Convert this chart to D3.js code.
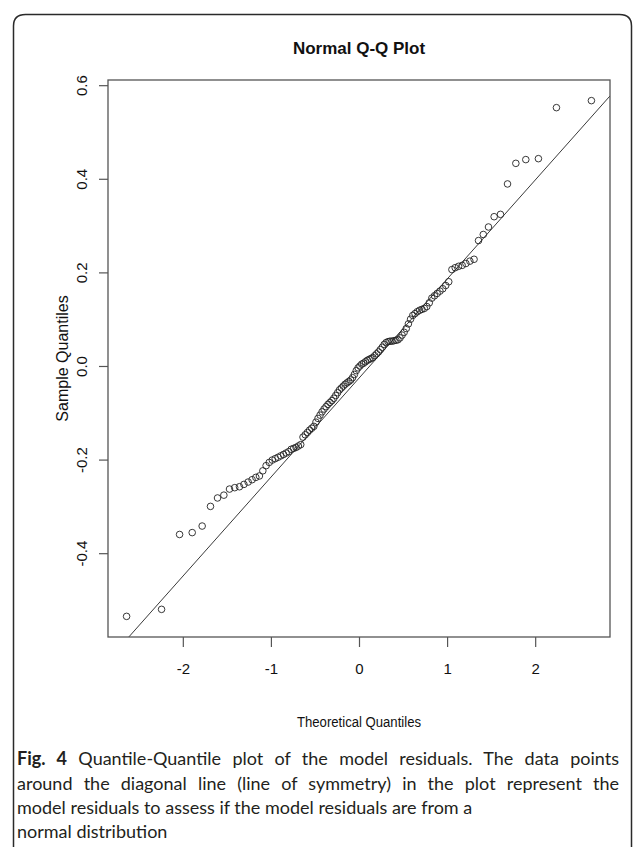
<!DOCTYPE html>
<html>
<head>
<meta charset="utf-8">
<script src="https://cdn.jsdelivr.net/npm/d3@7/dist/d3.min.js"></script>
<style>
  body { margin: 0; background: #fff; }
</style>
</head>
<body>
<div id="plot_area"></div>
<script>
// Page size
const w = 634;
const h = 847;

// Theoretical quantiles (x), lowest to highest
const theoretical = [
  -2.6383, -2.2414, -2.0368, -1.8935, -1.7805, -1.6860, -1.6060, -1.5341, -1.4699, -1.4110,
  -1.3569, -1.3063, -1.2586, -1.2136, -1.1710, -1.1305, -1.0918, -1.0547, -1.0189, -0.9844,
  -0.9510, -0.9186, -0.8873, -0.8567, -0.8269, -0.7979, -0.7694, -0.7416, -0.7144, -0.6878,
  -0.6615, -0.6357, -0.6103, -0.5853, -0.5608, -0.5365, -0.5125, -0.4889, -0.4654, -0.4422,
  -0.4194, -0.3966, -0.3741, -0.3519, -0.3297, -0.3077, -0.2859, -0.2641, -0.2425, -0.2211,
  -0.1998, -0.1785, -0.1573, -0.1360, -0.1150, -0.0941, -0.0732, -0.0522, -0.0313, -0.0104,
  0.0104, 0.0313, 0.0522, 0.0732, 0.0941, 0.1150, 0.1360, 0.1573, 0.1785, 0.1998,
  0.2211, 0.2425, 0.2641, 0.2859, 0.3077, 0.3297, 0.3519, 0.3741, 0.3966, 0.4194,
  0.4422, 0.4654, 0.4889, 0.5125, 0.5365, 0.5608, 0.5853, 0.6103, 0.6357, 0.6615,
  0.6878, 0.7144, 0.7416, 0.7694, 0.7979, 0.8269, 0.8567, 0.8873, 0.9186, 0.9510,
  0.9844, 1.0189, 1.0547, 1.0918, 1.1305, 1.1710, 1.2136, 1.2586, 1.3063, 1.3569,
  1.4110, 1.4699, 1.5341, 1.6060, 1.6860, 1.7805, 1.8935, 2.0368, 2.2414, 2.6383
];

// Sample quantiles (model residuals), same order
const sample = [
  -0.535, -0.520, -0.360, -0.356, -0.342, -0.300, -0.282, -0.276, -0.263, -0.260,
  -0.258, -0.253, -0.248, -0.243, -0.238, -0.235, -0.224, -0.213, -0.206, -0.201,
  -0.198, -0.195, -0.192, -0.189, -0.186, -0.183, -0.178, -0.176, -0.174, -0.171,
  -0.168, -0.152, -0.147, -0.142, -0.137, -0.133, -0.129, -0.120, -0.112, -0.105,
  -0.098, -0.092, -0.087, -0.082, -0.078, -0.074, -0.069, -0.063, -0.057, -0.051,
  -0.047, -0.043, -0.039, -0.036, -0.033, -0.030, -0.025, -0.018, -0.010, -0.004,
  0.000, 0.004, 0.006, 0.009, 0.012, 0.014, 0.016, 0.018, 0.022, 0.026,
  0.030, 0.035, 0.040, 0.046, 0.050, 0.052, 0.053, 0.053, 0.054, 0.055,
  0.056, 0.060, 0.066, 0.072, 0.080, 0.090, 0.100, 0.108, 0.112, 0.116,
  0.119, 0.121, 0.123, 0.127, 0.135, 0.145, 0.150, 0.155, 0.160, 0.165,
  0.172, 0.180, 0.206, 0.210, 0.213, 0.215, 0.219, 0.224, 0.228, 0.268,
  0.281, 0.297, 0.319, 0.324, 0.389, 0.433, 0.441, 0.443, 0.552, 0.567
];

// Axis ticks
const xTicks = [-2, -1, 0, 1, 2];
const yTicks = [-0.4, -0.2, 0.0, 0.2, 0.4, 0.6];

// Normal quantile at 0.75, used by the reference line (qqline)
const z75 = 0.6745;

// Caption lines
const captionBold = 'Fig. 4';
const captionLines = [
  ' Quantile-Quantile plot of the model residuals. The data points',
  'around the diagonal line (line of symmetry) in the plot represent the',
  'model residuals to assess if the model residuals are from a',
  'normal distribution'
];

// Plot region
const pLeft = 108, pRight = 610, pTop = 80, pBottom = 637;

// R style 4% padding of the data range
function padded(ext) {
  const d = (ext[1] - ext[0]) * 0.04;
  return [ext[0] - d, ext[1] + d];
}

const xScale = d3.scaleLinear()
                .domain(padded(d3.extent(theoretical)))
                .range([pLeft, pRight]);

const yScale = d3.scaleLinear()
                .domain(padded(d3.extent(sample)))
                .range([pBottom, pTop]);

const svg = d3.select('#plot_area')
            .append('svg')
            .attr('width', w)
            .attr('height', h);

// Rounded frame, open at the bottom
svg.append('path')
   .attr('d', 'M13.5,' + (h + 20) + ' L13.5,26 Q13.5,14.5 25.5,14.5 L619.5,14.5 Q631.5,14.5 631.5,26 L631.5,' + (h + 20))
   .attr('fill', 'none')
   .attr('stroke', '#2a2a2a')
   .attr('stroke-width', 1.5);

// Title
svg.append('text')
   .attr('x', (pLeft + pRight) / 2)
   .attr('y', 54)
   .attr('text-anchor', 'middle')
   .style('font-family', '"Liberation Sans", Arial, sans-serif')
   .style('font-weight', 'bold')
   .style('font-size', '17px')
   .style('fill', '#111')
   .text('Normal Q-Q Plot');

// Clip for the qq line
svg.append('clipPath')
   .attr('id', 'plotclip')
   .append('rect')
   .attr('x', pLeft).attr('y', pTop)
   .attr('width', pRight - pLeft).attr('height', pBottom - pTop);

// qqline through the quartiles
const sorted = sample.slice().sort(d3.ascending);
const q1 = d3.quantile(sorted, 0.25);
const q3 = d3.quantile(sorted, 0.75);
const slope = (q3 - q1) / (2 * z75);
const intercept = (q1 + q3) / 2;
const xd = xScale.domain();

svg.append('path')
   .datum([xd[0], xd[1]])
   .attr('clip-path', 'url(#plotclip)')
   .attr('stroke', '#3a3a3a')
   .attr('stroke-width', 1)
   .attr('fill', 'none')
   .attr('d', d3.line()
                .x((d) => xScale(d))
                .y((d) => yScale(intercept + slope * d)));

// Points
svg.selectAll('circle.pt')
   .data(theoretical)
   .enter()
   .append('circle')
   .attr('class', 'pt')
   .attr('cx', (d) => xScale(d))
   .attr('cy', (d, i) => yScale(sample[i]))
   .attr('r', 3.3)
   .attr('fill', 'none')
   .attr('stroke', '#222')
   .attr('stroke-width', 0.9);

// Box
svg.append('rect')
   .attr('x', pLeft).attr('y', pTop)
   .attr('width', pRight - pLeft).attr('height', pBottom - pTop)
   .attr('fill', 'none')
   .attr('stroke', '#555')
   .attr('stroke-width', 1.3);

// x-axis
const xAxis = svg.append('g')
   .attr('transform', 'translate(0,' + pBottom + ')')
   .call(d3.axisBottom(xScale)
           .tickValues(xTicks)
           .tickSize(10)
           .tickPadding(16)
           .tickFormat((d) => String(d)));

// y-axis
const yAxis = svg.append('g')
   .attr('transform', 'translate(' + pLeft + ',0)')
   .call(d3.axisLeft(yScale)
           .tickValues(yTicks)
           .tickSize(9)
           .tickFormat((d) => d.toFixed(1)));

[xAxis, yAxis].forEach(function (g) {
    g.select('.domain').remove();
    g.selectAll('.tick line').attr('stroke', '#555').attr('stroke-width', 1.2);
    g.selectAll('.tick text')
     .style('font-family', '"Liberation Sans", Arial, sans-serif')
     .style('font-size', '15px')
     .style('fill', '#111');
});

// rotate y tick labels like R
yAxis.selectAll('.tick text')
     .attr('x', null).attr('dy', null)
     .attr('text-anchor', 'middle')
     .attr('transform', 'translate(-21,0) rotate(-90)');

// Axis titles
svg.append('text')
   .attr('text-anchor', 'middle')
   .attr('transform', 'translate(68,' + (pTop + pBottom) / 2 + ') rotate(-90)')
   .style('font-family', '"Liberation Sans", Arial, sans-serif')
   .style('font-size', '16px')
   .style('fill', '#111')
   .text('Sample Quantiles');

svg.append('text')
   .attr('x', (pLeft + pRight) / 2)
   .attr('y', 727)
   .attr('text-anchor', 'middle')
   .attr('textLength', 124)
   .attr('lengthAdjust', 'spacingAndGlyphs')
   .style('font-family', '"Liberation Sans", Arial, sans-serif')
   .style('font-size', '14px')
   .style('fill', '#111')
   .text('Theoretical Quantiles');

// Caption
const capX = 17, capW = 602;
const capY = [765, 790, 814, 838];
captionLines.forEach(function (line, i) {
    const t = svg.append('text')
       .attr('x', capX)
       .attr('y', capY[i])
       .style('font-family', 'Lato, "Open Sans", sans-serif')
       .style('font-size', '18px')
       .style('fill', '#231f20');
    if (i === 0) {
        t.append('tspan').style('font-weight', 'bold').text(captionBold);
    }
    t.append('tspan').text(line);
    // justify the first two lines
    if (i < 2) {
        const natural = t.node().getComputedTextLength();
        const text = (i === 0 ? captionBold : '') + line;
        const gaps = text.trim().split(/\s+/).length - 1;
        t.style('word-spacing', ((capW - natural) / gaps) + 'px');
    }
});
</script>
</body>
</html>
